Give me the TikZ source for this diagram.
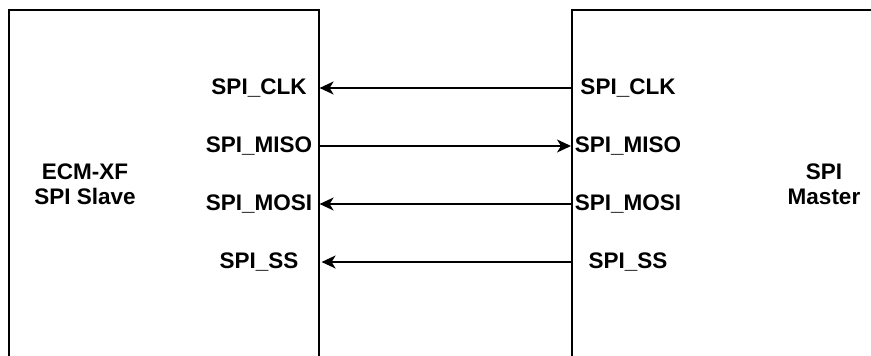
\documentclass[tikz,border=0pt]{standalone}
\usepackage{fontspec}
\setmainfont{Liberation Sans}
\usetikzlibrary{arrows.meta}
\begin{document}
\begin{tikzpicture}[x=1pt,y=-1pt,
  lbl/.style={font=\bfseries\fontsize{22.5}{25}\selectfont, inner sep=0pt, anchor=center},
  boxtxt/.style={font=\bfseries\fontsize{22.5}{25}\selectfont, inner sep=0pt, align=center},
  box/.style={draw, line width=1.6pt, rectangle, inner sep=0pt},
  sig/.style={line width=1.6pt, -{Stealth[length=14pt,width=13pt,inset=4pt]}}]
\useasboundingbox (0,0) rectangle (871,356);
\clip (0,0) rectangle (871,356);
\node[box, minimum width=310pt, minimum height=420pt, anchor=north west] (slave) at (8,9) {};
\node[box, minimum width=340pt, minimum height=420pt, anchor=north west] (master) at (571,9) {};
\node[boxtxt] (slavetxt) at (85,184) {ECM-XF\\SPI Slave};
\node[boxtxt] (mastertxt) at (824,184) {SPI\\Master};
\node[lbl] (lclk)  at (259,88)  {SPI\_CLK};
\node[lbl] (lmiso) at (259,146) {SPI\_MISO};
\node[lbl] (lmosi) at (259,204) {SPI\_MOSI};
\node[lbl] (lss)   at (259,262) {SPI\_SS};
\node[lbl] (rclk)  at (628,88)  {SPI\_CLK};
\node[lbl] (rmiso) at (628,146) {SPI\_MISO};
\node[lbl] (rmosi) at (628,204) {SPI\_MOSI};
\node[lbl] (rss)   at (628,262) {SPI\_SS};
\draw[sig] (master.west |- lclk) -- (slave.east |- lclk);
\draw[sig] (slave.east |- lmiso) -- (master.west |- lmiso);
\draw[sig] (master.west |- lmosi) -- (slave.east |- lmosi);
\draw[sig] (master.west |- lss) -- ([xshift=2pt]slave.east |- lss);
\end{tikzpicture}
\end{document}
